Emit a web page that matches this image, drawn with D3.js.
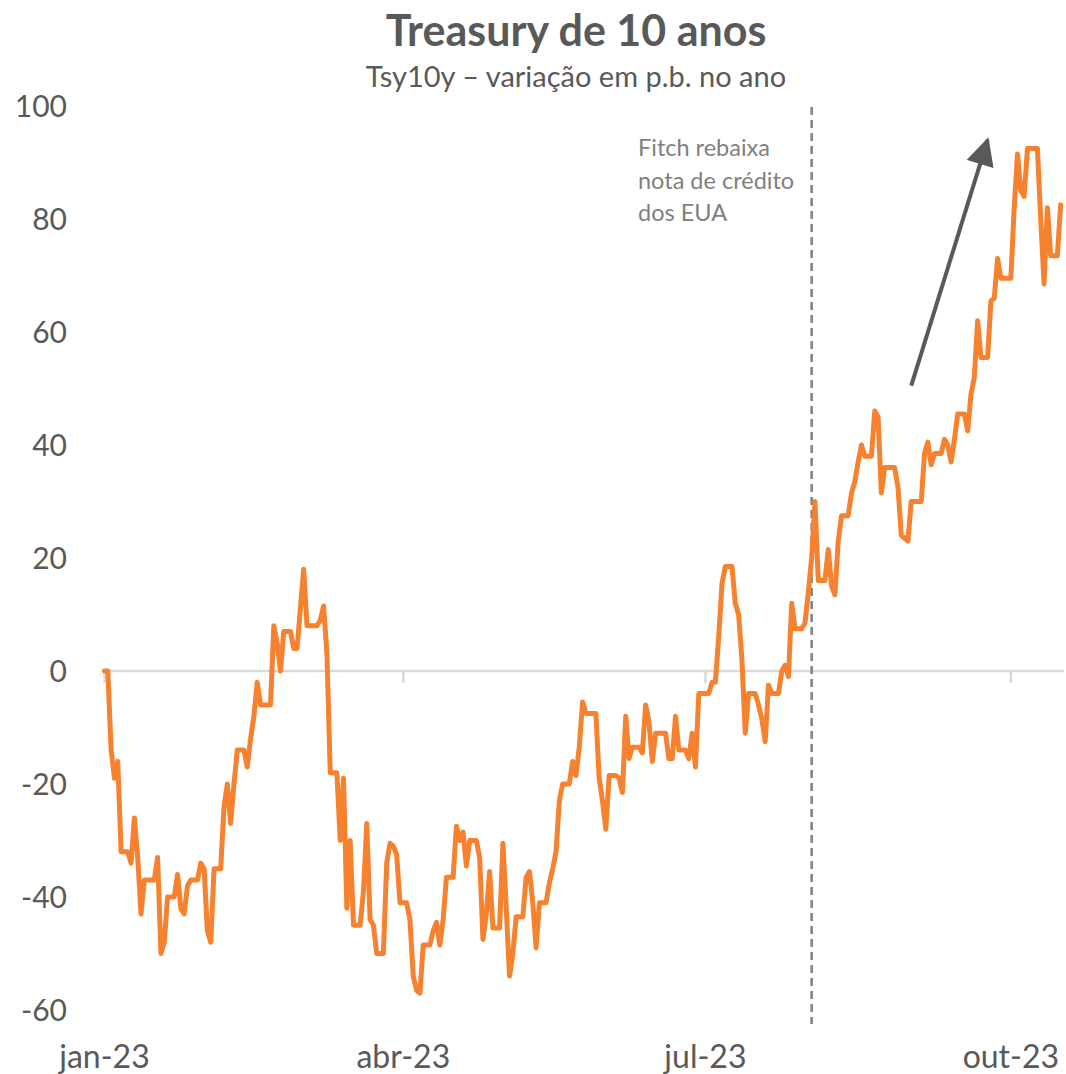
<!DOCTYPE html>
<html>
<head>
<meta charset="utf-8">
<script src="https://cdn.jsdelivr.net/npm/d3@7"></script>
<style>
  body { margin: 0; background: #fff; }
  svg { display: block; font-family: Lato, "Open Sans", sans-serif; }
</style>
</head>
<body>
<svg id="chart" width="1066" height="1074"></svg>
<script>
// Tsy10y, variação em p.b. no ano (dias corridos, fim de semana/feriado repete o último valor)
const startDate = new Date(2023, 0, 1)
const tsy10y = [
  // jan
  0, 0, -14, -19, -16, -32, -32, -32, -34, -26, -33, -43, -37, -37, -37, -37,
  -33, -50, -48, -40, -40, -40, -36, -42, -43, -38, -37, -37, -37, -34, -35,
  // fev
  -46, -48, -35, -35, -35, -24, -20, -27, -20, -14, -14, -14, -17, -12, -8, -2,
  -6, -6, -6, -6, 8, 5, 0, 7, 7, 7, 4, 4,
  // mar
  11, 18, 8, 8, 8, 8, 9, 11.5, 3, -18, -18, -18, -30, -19, -42, -30, -45, -45,
  -45, -39, -27, -44, -45, -50, -50, -50, -34, -30.5, -31, -32.5, -41,
  // abr
  -41, -41, -44, -54, -56.5, -57, -48.5, -48.5, -48.5, -46, -44.5, -48.5, -44,
  -36.5, -36.5, -36.5, -27.5, -30, -28.5, -34.5, -30, -30, -30, -33, -47.5, -43,
  -35.5, -45.5, -45.5, -45.5,
  // mai
  -30.5, -42, -54, -50, -43.5, -43.5, -43.5, -36.5, -35.5, -41, -49, -41, -41,
  -41, -37.5, -35, -32, -23, -20, -20, -20, -16, -18.5, -13.5, -5.5, -7.5, -7.5,
  -7.5, -7.5, -19, -23,
  // jun
  -28, -18.5, -18.5, -18.5, -19, -21.5, -8, -15.5, -13.5, -13.5, -13.5, -14.5,
  -6, -9, -16, -11, -11, -11, -11, -15.5, -15.5, -8, -14, -14, -14, -15.5, -11,
  -17, -4, -4,
  // jul
  -4, -4, -2, -2, 6, 15.5, 18.5, 18.5, 18.5, 12, 10, 2, -11, -4, -4, -4, -6,
  -8.5, -12.5, -2.5, -4, -4, -4, 0, 1, -1, 12, 7.5, 7.5, 7.5, 8.5,
  // ago
  14, 20, 30, 16, 16, 16, 21.5, 15, 13.5, 23, 27.5, 27.5, 27.5, 31.5, 33.5, 37,
  40, 38, 38, 38, 46, 45, 31.5, 36, 36, 36, 36, 32.5, 24, 23.5, 23,
  // set
  30, 30, 30, 30, 38.5, 40.5, 36.5, 38.5, 38.5, 38.5, 41, 40, 37, 41, 45.5, 45.5,
  45.5, 42.5, 49, 52, 62, 55.5, 55.5, 55.5, 65.5, 66, 73, 69.5, 69.5, 69.5,
  // out
  69.5, 82, 91.5, 85, 84, 92.5, 92.5, 92.5, 92.5, 80, 68.5, 82, 73.5, 73.5, 73.5,
  82.5
]
const dates = tsy10y.map((v, i) => d3.timeDay.offset(startDate, i))

const yTicks = [-60, -40, -20, 0, 20, 40, 60, 80, 100]
const xTicks = [new Date(2023, 0, 1), new Date(2023, 3, 1), new Date(2023, 6, 1), new Date(2023, 9, 1)]

const fitchDate = new Date(2023, 7, 2)
const fitchText = ['Fitch rebaixa', 'nota de crédito', 'dos EUA']
const arrowFrom = { date: new Date(2023, 8, 1), value: 50.5 }
const arrowTo = { date: new Date(2023, 8, 24), value: 94 }

const ptBR = d3.timeFormatLocale({
  dateTime: '%d/%m/%Y %H:%M:%S', date: '%d/%m/%Y', time: '%H:%M:%S',
  periods: ['AM', 'PM'],
  days: ['domingo', 'segunda', 'terça', 'quarta', 'quinta', 'sexta', 'sábado'],
  shortDays: ['dom', 'seg', 'ter', 'qua', 'qui', 'sex', 'sáb'],
  months: ['janeiro', 'fevereiro', 'março', 'abril', 'maio', 'junho', 'julho', 'agosto', 'setembro', 'outubro', 'novembro', 'dezembro'],
  shortMonths: ['jan', 'fev', 'mar', 'abr', 'mai', 'jun', 'jul', 'ago', 'set', 'out', 'nov', 'dez']
})
const fmtMonth = ptBR.format('%b-%y')

const svg = d3.select('#chart')
const textColor = '#595959'

const x = d3.scaleTime()
  .domain([startDate, dates[dates.length - 1]])
  .range([104.5, 104.5 + 288 * 3.32])
const y = d3.scaleLinear().domain([-60, 100]).range([1010, 106])

// titles
svg.append('text')
  .attr('x', 576).attr('y', 46)
  .attr('text-anchor', 'middle')
  .attr('font-size', 43).attr('font-weight', 700)
  .attr('fill', textColor)
  .text('Treasury de 10 anos')
svg.append('text')
  .attr('x', 576).attr('y', 87)
  .attr('text-anchor', 'middle')
  .attr('font-size', 29)
  .attr('fill', textColor)
  .text('Tsy10y – variação em p.b. no ano')

// y labels
svg.append('g')
  .selectAll('text')
  .data(yTicks)
  .join('text')
  .attr('x', 67)
  .attr('y', d => y(d))
  .attr('dy', '0.36em')
  .attr('text-anchor', 'end')
  .attr('font-size', 30)
  .attr('fill', textColor)
  .text(d => d)

// zero line + ticks
svg.append('line')
  .attr('x1', 103).attr('x2', 1064)
  .attr('y1', y(0)).attr('y2', y(0))
  .attr('stroke', '#d9d9d9').attr('stroke-width', 2.5)
svg.append('g')
  .selectAll('line')
  .data(xTicks)
  .join('line')
  .attr('x1', d => x(d)).attr('x2', d => x(d))
  .attr('y1', y(0)).attr('y2', y(0) + 12)
  .attr('stroke', '#d9d9d9').attr('stroke-width', 2.5)

// x labels
svg.append('g')
  .selectAll('text')
  .data(xTicks)
  .join('text')
  .attr('x', d => x(d))
  .attr('y', 1068)
  .attr('text-anchor', 'middle')
  .attr('font-size', 32)
  .attr('fill', textColor)
  .text(d => fmtMonth(d))

// fitch
svg.append('line')
  .attr('x1', x(fitchDate)).attr('x2', x(fitchDate))
  .attr('y1', 107).attr('y2', 1024)
  .attr('stroke', '#7f7f7f').attr('stroke-width', 2.5)
  .attr('stroke-dasharray', '8,5')
svg.append('g')
  .selectAll('text')
  .data(fitchText)
  .join('text')
  .attr('x', 638)
  .attr('y', (d, i) => 156 + i * 32.5)
  .attr('font-size', 23.5)
  .attr('fill', '#7f7f7f')
  .text(d => d)

// line
const line = d3.line()
  .x((d, i) => x(dates[i]))
  .y(d => y(d))
svg.append('path')
  .datum(tsy10y)
  .attr('d', line)
  .attr('fill', 'none')
  .attr('stroke', '#f6812f')
  .attr('stroke-width', 5)
  .attr('stroke-linejoin', 'round')
  .attr('stroke-linecap', 'round')

// arrow
svg.append('defs').append('marker')
  .attr('id', 'head')
  .attr('viewBox', '0 0 10 10')
  .attr('refX', 9).attr('refY', 5)
  .attr('markerWidth', 7.5).attr('markerHeight', 7)
  .attr('markerUnits', 'strokeWidth')
  .attr('orient', 'auto')
  .append('path')
  .attr('d', 'M0,0L10,5L0,10Z')
  .attr('fill', textColor)
svg.append('line')
  .attr('x1', x(arrowFrom.date)).attr('y1', y(arrowFrom.value))
  .attr('x2', x(arrowTo.date)).attr('y2', y(arrowTo.value))
  .attr('stroke', textColor).attr('stroke-width', 4)
  .attr('marker-end', 'url(#head)')
</script>
</body>
</html>
